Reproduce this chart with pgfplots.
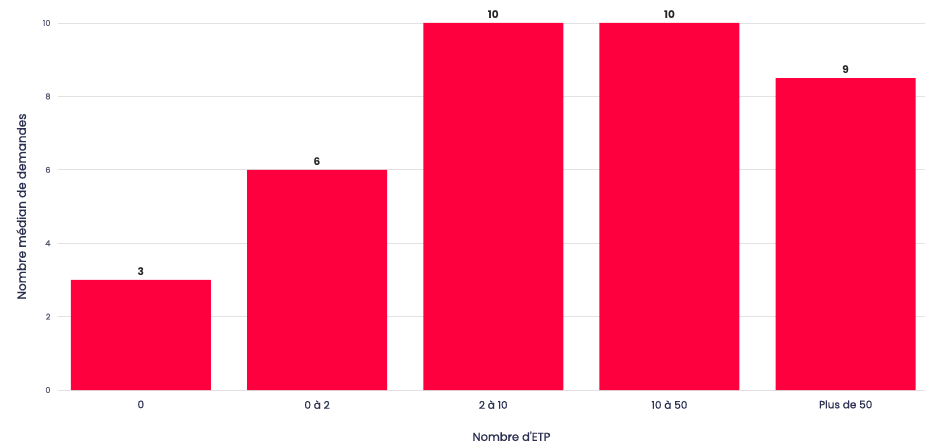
\documentclass[border=0pt]{standalone}
\usepackage{fontspec}
\setmainfont{Poppins}
\newfontfamily\med[FakeBold=0.9]{Poppins}
\usepackage{pgfplots}
\pgfplotsset{compat=1.18}
\definecolor{barred}{HTML}{FF003F}
\definecolor{navy}{HTML}{2B3050}
\definecolor{gridc}{HTML}{E2E2E2}
\begin{document}
\begin{tikzpicture}[x=1pt,y=1pt]
\useasboundingbox (0,0) rectangle (925,444);
\begin{axis}[
  at={(58pt,54pt)}, anchor=south west,
  scale only axis, width=867pt, height=367pt,
  xmin=-0.47, xmax=4.45, ymin=0, ymax=10,
  axis line style={draw=none},
  ybar, bar width=140pt,
  xtick={0,1,2,3,4},
  xticklabels={0, 0 à 2, 2 à 10, 10 à 50, Plus de 50},
  ytick={0,2,4,6,8,10},
  ymajorgrids, major grid style={gridc, line width=0.8pt},
  major tick length=0pt,
  tick label style={font=\med\fontsize{9}{10}\selectfont, text=navy},
  xticklabel style={font=\med\fontsize{10.5}{12}\selectfont, text=navy, yshift=-7pt},
  yticklabel style={font=\med\fontsize{8}{10}\selectfont, text=navy!80, xshift=-4pt},
  /pgf/number format/assume math mode=true,
  xlabel={Nombre d'ETP},
  ylabel={Nombre médian de demandes},
  xlabel style={font=\med\fontsize{11.5}{13}\selectfont, text=navy, xshift=20pt, yshift=-16pt},
  ylabel style={font=\med\fontsize{12}{14}\selectfont, text=navy, yshift=10pt},
  nodes near coords,
  point meta=explicit symbolic,
  every node near coord/.append style={font=\bfseries\fontsize{10.5}{12}\selectfont, text=black!85, yshift=1pt},
  clip=false,
]
\addplot[fill=barred, draw=none] coordinates {
  (0,3) [3]
  (1,6) [6]
  (2,10) [10]
  (3,10) [10]
  (4,8.5) [9]
};
\end{axis}
\end{tikzpicture}
\end{document}
